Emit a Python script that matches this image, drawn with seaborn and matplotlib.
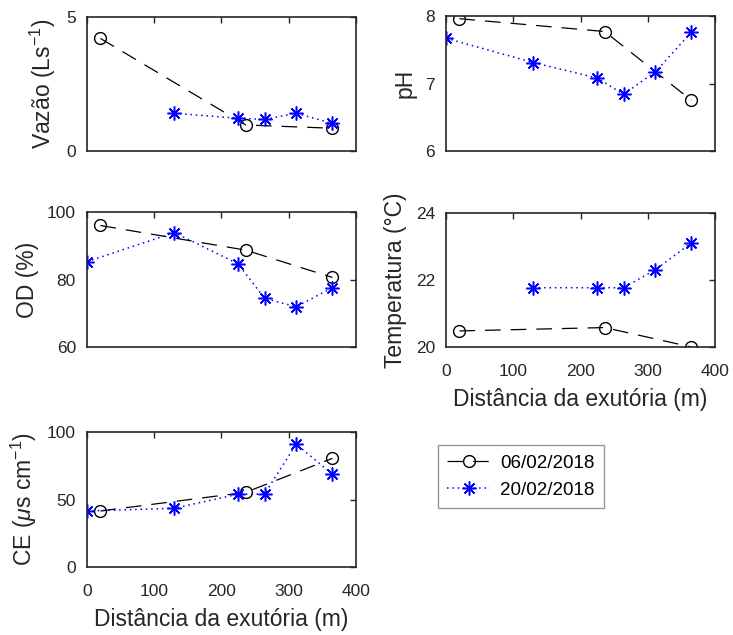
import numpy as np
import pandas as pd
import matplotlib
matplotlib.use("Agg")
import matplotlib.pyplot as plt
import seaborn as sns

# Sampling distances from the outlet (m) for each campaign
dist_0602 = [20, 236, 365]
dist_2002 = [0, 130, 225, 264, 311, 365]

# Discharge (L/s)
vazao_0602 = [4.2, 0.97, 0.85]
vazao_2002 = [np.nan, 1.41, 1.22, 1.18, 1.41, 1.03]

# pH
ph_0602 = [7.96, 7.77, 6.75]
ph_2002 = [7.67, 7.31, 7.08, 6.84, 7.17, 7.76]

# Dissolved oxygen (%)
od_0602 = [96.0, 88.7, 80.6]
od_2002 = [85.3, 93.9, 84.6, 74.4, 71.9, 77.6]

# Water temperature (°C)
temp_0602 = [20.48, 20.58, 20.0]
temp_2002 = [np.nan, 21.77, 21.77, 21.77, 22.3, 23.11]

# Electrical conductivity (µS/cm)
ce_0602 = [41.5, 55.3, 80.5]
ce_2002 = [41.5, 43.5, 54.0, 54.0, 91.0, 68.7]

labels = ["06/02/2018", "20/02/2018"]

sns.set_theme(style="white")
plt.rcParams["font.family"] = ["Liberation Sans", "DejaVu Sans"]
plt.rcParams["mathtext.fontset"] = "custom"
plt.rcParams["mathtext.rm"] = "Liberation Sans"
plt.rcParams["mathtext.it"] = "Liberation Sans:italic"

grey = "#262626"
fig = plt.figure(figsize=(7.33, 6.35), dpi=100)

W, H = 733, 635
def box(x0, y0, x1, y1):
    return [x0 / W, 1 - y1 / H, (x1 - x0) / W, (y1 - y0) / H]

panels = [
    (box(87, 17, 356, 151), vazao_0602, vazao_2002, (0, 5), [0, 5], r"Vazão (Ls$^{-1}$)", False),
    (box(446, 16, 715, 151), ph_0602, ph_2002, (6, 8), [6, 7, 8], "pH", False),
    (box(87, 212, 356, 347), od_0602, od_2002, (60, 100), [60, 80, 100], "OD (%)", False),
    (box(446, 213, 715, 347), temp_0602, temp_2002, (20, 24), [20, 22, 24], "Temperatura (°C)", True),
    (box(87, 432, 356, 567), ce_0602, ce_2002, (0, 100), [0, 50, 100], r"CE ($\mu$s cm$^{-1}$)", True),
]

asterisk = (8, 2, 0)
handles = None
for rect, a, b, ylim, yticks, ylabel, show_x in panels:
    ax = fig.add_axes(rect)
    sns.lineplot(x=dist_0602, y=a, ax=ax, color="black", linewidth=0.9,
                 linestyle=(0, (12.5, 8)), marker="o", markersize=8.5,
                 markerfacecolor="none", markeredgecolor="black",
                 markeredgewidth=1.0, label=labels[0], legend=False)
    sns.lineplot(x=dist_2002, y=b, ax=ax, color="blue", linewidth=1.1,
                 linestyle=(0, (1, 2.5)), marker=asterisk, markersize=10,
                 markeredgecolor="blue", markeredgewidth=1.1,
                 label=labels[1], legend=False)
    ax.set_xlim(0, 400)
    ax.set_ylim(*ylim)
    ax.set_xticks([0, 100, 200, 300, 400])
    ax.set_yticks(yticks)
    ax.tick_params(direction="in", length=4, width=1.0, colors=grey,
                   labelsize=12.5, top=True, right=True)
    ax.tick_params(axis="x", pad=12)
    ax.tick_params(axis="y", pad=8)
    for s in ax.spines.values():
        s.set_color(grey)
        s.set_linewidth(1.2)
    ax.set_ylabel(ylabel, fontsize=16.5, color=grey, labelpad=6)
    if show_x:
        ax.set_xlabel("Distância da exutória (m)", fontsize=16.5, color=grey, labelpad=7)
    else:
        ax.set_xticklabels([])
        ax.set_xlabel("")
    if handles is None:
        handles = ax.lines[:2]

leg = fig.legend(handles, labels, loc="upper left",
                 bbox_to_anchor=(438 / W, 1 - 445 / H), borderaxespad=0,
                 fontsize=13.5, frameon=True, fancybox=False,
                 handlelength=2.3, handletextpad=0.5, borderpad=0.5,
                 labelspacing=0.55)
leg.get_frame().set_edgecolor("#7f7f7f")
leg.get_frame().set_linewidth(1.0)
for t in leg.get_texts():
    t.set_color("black")

fig.savefig("out.png", dpi=100)
